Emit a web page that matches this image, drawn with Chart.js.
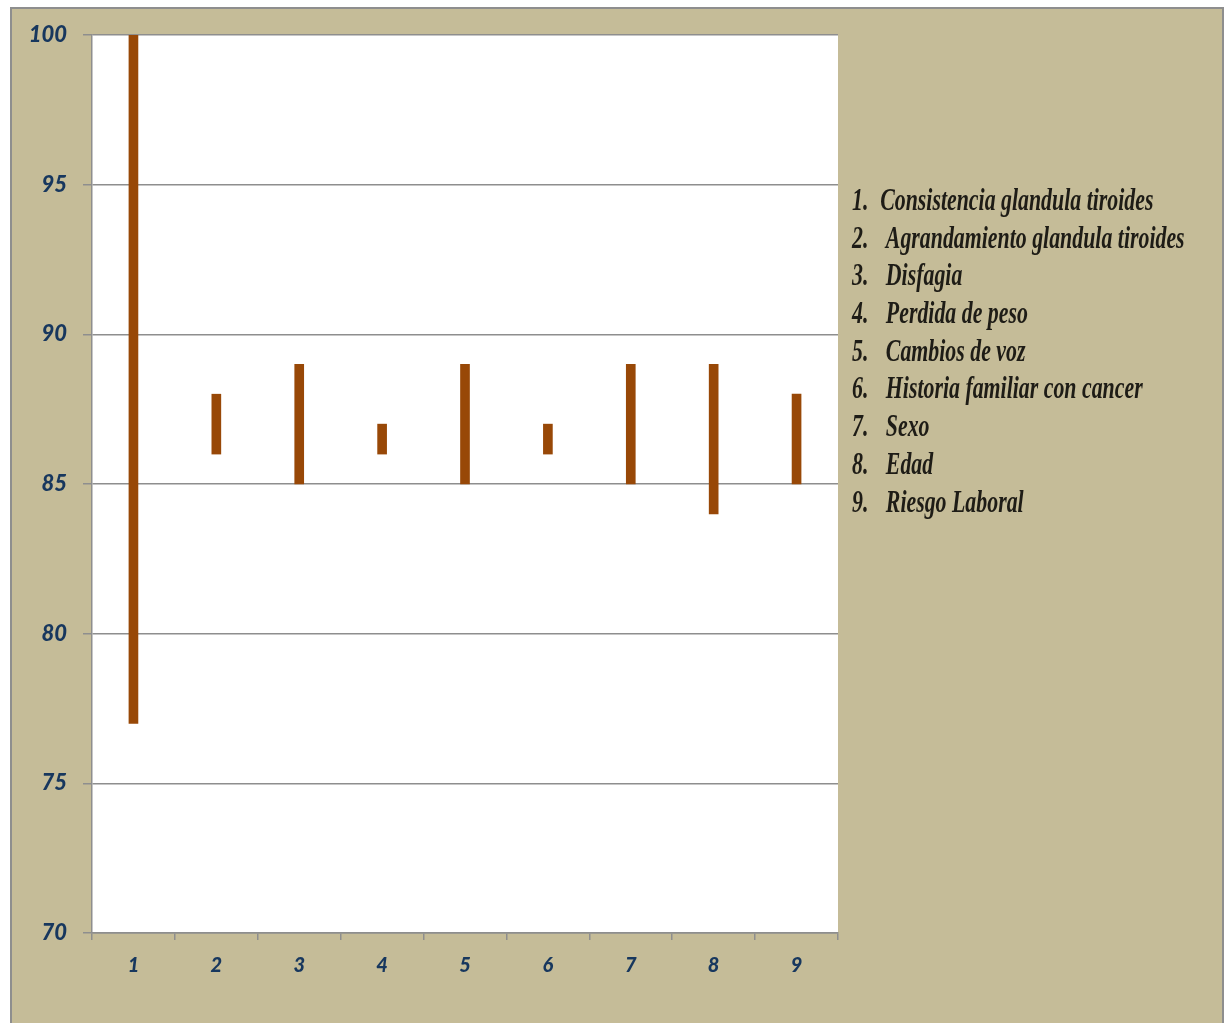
<!DOCTYPE html>
<html>
<head>
<meta charset="utf-8">
<script src="https://cdn.jsdelivr.net/npm/chart.js@4"></script>
<style>
  html, body { margin: 0; padding: 0; background: #ffffff; }
  body { width: 1232px; height: 1023px; position: relative; overflow: hidden; }
  #frame {
    position: absolute; left: 10px; top: 7px; width: 1214px; height: 1030px;
    background: #C5BC98; border: 2px solid #8E8E8E; box-sizing: border-box;
  }
  #wrap { position: absolute; left: 0; top: 0; width: 1232px; height: 1023px; }
  #key { position: absolute; left: 852px; top: 181px; margin: 0; padding: 0; list-style: none; }
  #key li {
    font-family: "Liberation Serif", "DejaVu Serif", serif; font-style: italic; font-weight: bold;
    font-size: 31px; line-height: 37.7px; height: 37.7px; color: #1e1c16;
    white-space: nowrap; transform: scaleX(0.705); transform-origin: left center;
  }
  #key li span.n { display: inline-block; width: 48px; }
  #key li:first-child span.n { width: 40px; }
</style>
</head>
<body>
<div id="frame"></div>
<div id="wrap"><canvas id="c" width="1232" height="1023"></canvas></div>
<ul id="key"></ul>
<script>
// Factors (x axis categories) and the range each one spans on the y scale
const categories = ['1', '2', '3', '4', '5', '6', '7', '8', '9'];
const lowValues  = [77, 86, 85, 86, 85, 86, 85, 84, 85];
const highValues = [100, 88, 89, 87, 89, 87, 89, 89, 88];
const yTicks = [70, 75, 80, 85, 90, 95, 100];
const factorNames = [
  'Consistencia glandula tiroides',
  'Agrandamiento glandula tiroides',
  'Disfagia',
  'Perdida de peso',
  'Cambios de voz',
  'Historia familiar con cancer',
  'Sexo',
  'Edad',
  'Riesgo Laboral'
];

// Numbered key on the right
const key = document.getElementById('key');
factorNames.forEach((name, i) => {
  const li = document.createElement('li');
  const n = document.createElement('span');
  n.className = 'n';
  n.textContent = (i + 1) + '.';
  li.appendChild(n);
  li.appendChild(document.createTextNode(name));
  key.appendChild(li);
});

const ranges = categories.map((_, i) => [lowValues[i], highValues[i]]);

// White plot area behind the bars
const plotBackground = {
  id: 'plotBackground',
  beforeDraw(chart) {
    const { ctx, chartArea: a } = chart;
    ctx.save();
    ctx.fillStyle = '#ffffff';
    ctx.fillRect(a.left, a.top, a.right - a.left, a.bottom - a.top);
    ctx.restore();
  }
};

const tickFont = { family: 'Lato, "Open Sans", sans-serif', weight: '900', style: 'italic' };

new Chart(document.getElementById('c'), {
  type: 'bar',
  data: {
    labels: categories,
    datasets: [{
      data: ranges,
      backgroundColor: '#984807',
      borderWidth: 0,
      barThickness: 9
    }]
  },
  options: {
    responsive: false,
    animation: false,
    layout: { padding: { top: 35, right: 394, bottom: 0, left: 0 } },
    plugins: { legend: { display: false }, tooltip: { enabled: false } },
    scales: {
      x: {
        offset: true,
        grid: { display: true, drawOnChartArea: false, color: '#8E8E8E', lineWidth: 1.5, tickLength: 7, offset: true },
        border: { display: true, color: '#8E8E8E', width: 1.5 },
        ticks: { color: '#17375E', font: { ...tickFont, size: 20 }, padding: 14, maxRotation: 0 },
        afterFit(scale) { scale.height = 90; }
      },
      y: {
        min: 70, max: 100,
        afterBuildTicks(scale) { scale.ticks = yTicks.map(v => ({ value: v })); },
        grid: { color: '#8E8E8E', lineWidth: 1.5, tickLength: 9 },
        border: { display: true, color: '#8E8E8E', width: 1.5 },
        ticks: { color: '#17375E', font: { ...tickFont, size: 22 }, padding: 16 },
        afterFit(scale) { scale.width = 92; }
      }
    }
  },
  plugins: [plotBackground]
});
</script>
</body>
</html>
